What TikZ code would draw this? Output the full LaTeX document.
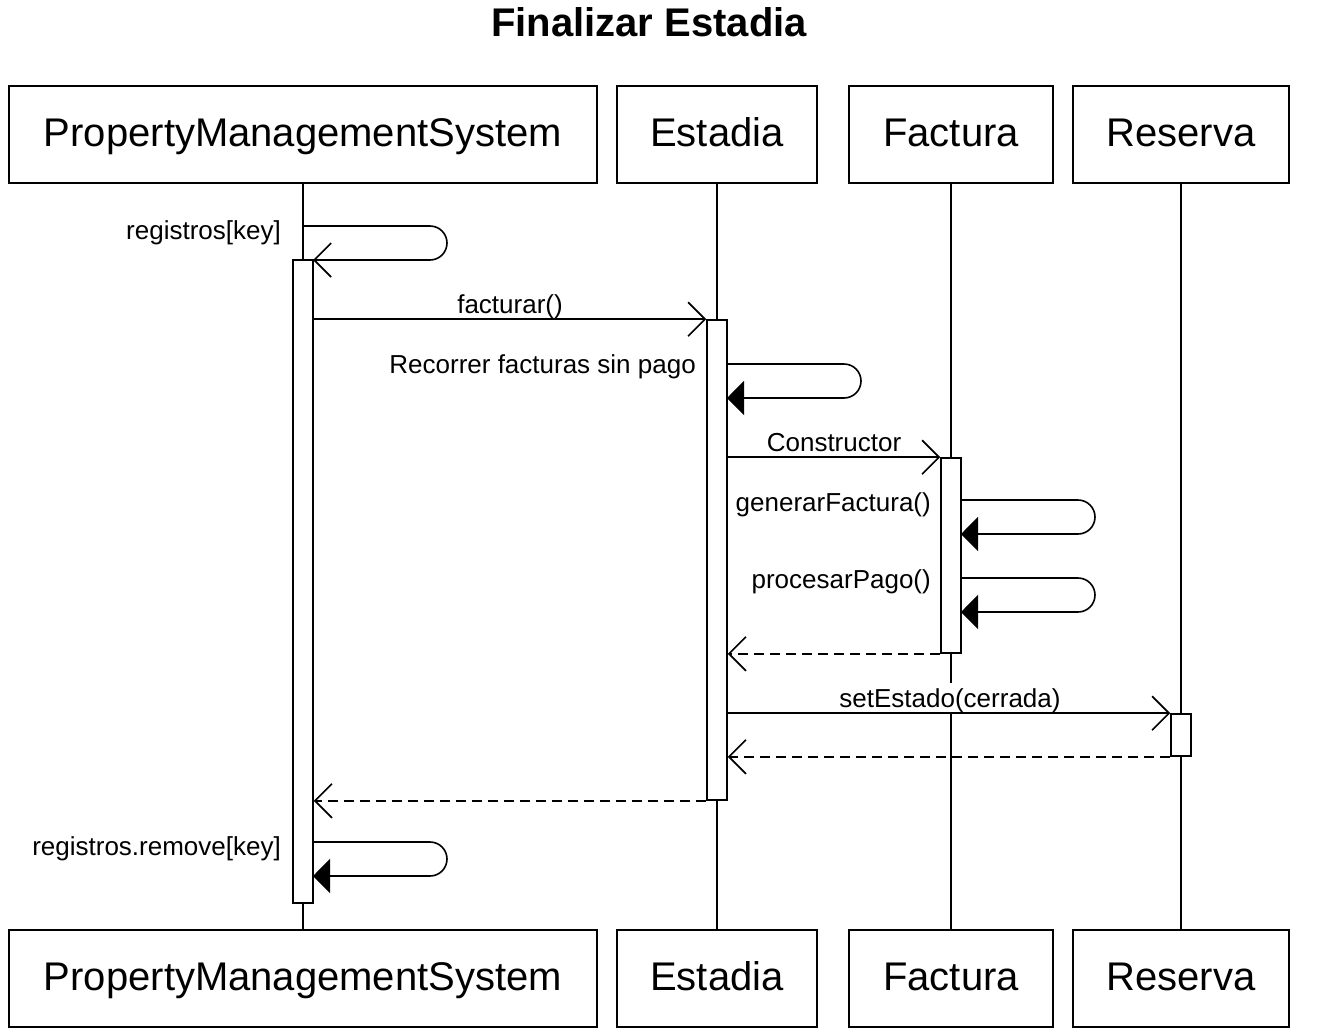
\documentclass[tikz,border=0pt]{standalone}
\usepackage{fontspec}
\setmainfont{Liberation Sans}
\usetikzlibrary{arrows.meta}
\usetikzlibrary{calc}

\tikzset{
  lifebox/.style={draw, line width=1.6pt, minimum height=97pt, inner sep=0pt, text height=30pt, text depth=7pt, font=\fontsize{40}{48}\selectfont},
  actbar/.style={draw, fill=white, line width=1.6pt, minimum width=20pt, inner sep=0pt},
  msglabel/.style={inner sep=0pt, font=\fontsize{26}{31}\selectfont},
  call/.style={-{Straight Barb[length=17pt,width=34pt]}, line width=1.6pt},
  reply/.style={call, dash pattern=on 10pt off 6pt},
  selfloop/.style={line width=1.6pt, rounded corners=17pt},
  selfopen/.style={selfloop, -{Straight Barb[length=17pt,width=34pt]}},
  selffilled/.style={selfloop, -{Triangle[length=17pt,width=34pt]}}
}

\begin{document}
\begin{tikzpicture}[x=1pt, y=-1pt]
		\useasboundingbox (0,0) rectangle (1324,1034);

		\node[font=\bfseries\fontsize{40}{48}\selectfont] (title) at (649,22) {Finalizar Estadia};

		% participants
		\node[lifebox, minimum width=588pt] (pmsTop) at (303,134.5) {PropertyManagementSystem};
		\node[lifebox, minimum width=200pt] (estTop) at (717,134.5) {Estadia};
		\node[lifebox, minimum width=204pt] (facTop) at (951,134.5) {Factura};
		\node[lifebox, minimum width=216pt] (resTop) at (1181,134.5) {Reserva};
		\node[lifebox, minimum width=588pt] (pmsBot) at (303,978.5) {PropertyManagementSystem};
		\node[lifebox, minimum width=200pt] (estBot) at (717,978.5) {Estadia};
		\node[lifebox, minimum width=204pt] (facBot) at (951,978.5) {Factura};
		\node[lifebox, minimum width=216pt] (resBot) at (1181,978.5) {Reserva};

		\draw[line width=1.6pt] (pmsTop) -- (pmsBot);
		\draw[line width=1.6pt] (estTop) -- (estBot);
		\draw[line width=1.6pt] (facTop) -- (facBot);
		\draw[line width=1.6pt] (resTop) -- (resBot);

		% activations
		\node[actbar, minimum height=643pt] (actPms) at (303,581.5) {};
		\node[actbar, minimum height=480pt] (actEst) at (717,560) {};
		\node[actbar, minimum height=195pt] (actFac) at (951,555.5) {};
		\node[actbar, minimum height=42pt] (actRes) at (1181,735) {};

		% self calls
		\coordinate (regStart) at (303,226);
		\coordinate (recStart) at (727,364);
		\coordinate (genStart) at (961,500);
		\coordinate (proStart) at (961,578);
		\coordinate (remStart) at (313,842);
		\draw[selfopen] (regStart) -- ++(144,0) -- ++(0,34) -- ++(-134,0);
		\draw[selffilled] (recStart) -- ++(134,0) -- ++(0,34) -- ++(-134,0);
		\draw[selffilled] (genStart) -- ++(134,0) -- ++(0,34) -- ++(-134,0);
		\draw[selffilled] (proStart) -- ++(134,0) -- ++(0,34) -- ++(-134,0);
		\draw[selffilled] (remStart) -- ++(134,0) -- ++(0,34) -- ++(-134,0);

		\node[msglabel, anchor=base east] (regLbl) at (281,239) {registros[key]};
		\node[msglabel, anchor=base east] (recLbl) at (696,373.5) {Recorrer facturas sin pago};
		\node[msglabel, anchor=base east] (genLbl) at (931,511.5) {generarFactura()};
		\node[msglabel, anchor=base east] (proLbl) at (931,588.5) {procesarPago()};
		\node[msglabel, anchor=base east] (remLbl) at (281,855.5) {registros.remove[key]};

		% messages
		\node[msglabel, anchor=base] (facLbl) at (510,313.5) {facturar()};
		\draw[call] (actEst.north west -| actPms.east) -- (actEst.north west);
		\node[msglabel, anchor=base] (conLbl) at (834,451.5) {Constructor};
		\draw[call] (actFac.north west -| actEst.east) -- (actFac.north west);
		\draw[reply] (actFac.south west) -- (actFac.south west -| actEst.east);
		\node[msglabel, anchor=base, fill=white, text depth=0pt, inner ysep=6pt] (setLbl) at (950,707.5) {setEstado(cerrada)};
		\draw[call] (actRes.north west -| actEst.east) -- (actRes.north west);
		\draw[reply] (actRes.south west) -- (actRes.south west -| actEst.east);
		\draw[reply] (actEst.south west) -- (actEst.south west -| actPms.east);
	\end{tikzpicture}
\end{document}
